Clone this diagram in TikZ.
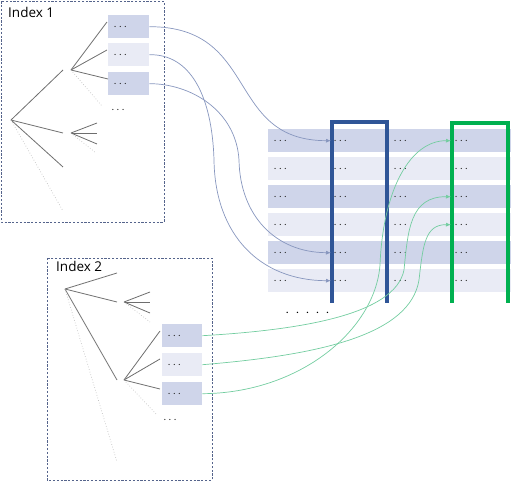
\documentclass[tikz,border=0pt]{standalone}
\usepackage{fontspec}
\setmainfont{Open Sans}
\newfontfamily\dotfont[LetterSpace=40]{Open Sans}
\newfontfamily\wdotfont[LetterSpace=90]{Open Sans}
\usetikzlibrary{arrows.meta}
\definecolor{rowdark}{RGB}{207,213,234}
\definecolor{rowlight}{RGB}{233,235,245}
\definecolor{framec}{RGB}{85,100,140}
\definecolor{treec}{RGB}{110,110,110}
\definecolor{treedot}{RGB}{195,195,195}
\definecolor{bluebr}{RGB}{47,85,151}
\definecolor{greenbr}{RGB}{0,176,80}
\definecolor{barrowc}{RGB}{135,150,190}
\definecolor{garrowc}{RGB}{115,205,160}
\definecolor{dotc}{RGB}{40,40,40}
\tikzset{
  frame/.style={draw=framec, line width=0.8pt, dash pattern=on 2.2pt off 1.6pt},
  idxlabel/.style={anchor=base west, inner sep=0pt, font=\fontsize{13.5}{15}\selectfont},
  tline/.style={draw=treec, line width=0.8pt},
  tdot/.style={draw=treedot, line width=0.7pt, dotted},
  keybox/.style={anchor=north west, minimum height=23pt, inner xsep=6pt, inner ysep=0pt, text width=29pt, align=left, text=dotc, font=\dotfont\bfseries\fontsize{7.5}{8}\selectfont},
  cellbox/.style={anchor=north west, minimum height=23pt, inner xsep=6pt, inner ysep=0pt, align=left, text=dotc, font=\dotfont\bfseries\fontsize{7.5}{8}\selectfont},
  more/.style={inner sep=0pt, text=dotc, font=\dotfont\bfseries\fontsize{7.5}{8}\selectfont},
  bracket/.style={line width=3.4pt, line join=miter},
  barrow/.style={draw=barrowc, line width=0.7pt, -{Latex[length=5pt,width=4pt]}},
  garrow/.style={draw=garrowc, line width=0.7pt, -{Latex[length=5pt,width=4pt]}},
}
\begin{document}
\begin{tikzpicture}[x=1pt,y=-1pt]
\useasboundingbox (0,0) rectangle (512,481);

% ---------- table ----------
\foreach \r in {1,...,6}{
  \pgfmathtruncatemacro\odd{mod(\r,2)}
  \ifnum\odd=1 \def\rc{rowdark}\else\def\rc{rowlight}\fi
  \foreach \c/\xx/\w in {1/268/60,2/328/60,3/388/61,4/449/62}{
    \pgfmathsetmacro\tw{\w-12}
    \node[cellbox, fill=\rc, text width=\tw pt] (c\r\c) at ({\xx},{129+28*(\r-1)}) {...};
  }
}
\node[inner sep=0pt, text=black, font=\wdotfont\bfseries\fontsize{8.5}{9}\selectfont, anchor=west] (etc) at (286,313) {.....};

% ---------- brackets ----------
\draw[bracket, draw=bluebr] (332,303) -- (332,122) -- (387,122) -- (387,303);
\draw[bracket, draw=greenbr] (452,303) -- (452,123) -- (508,123) -- (508,303);

% ---------- Index 1 ----------
\draw[frame] (1,1.5) rectangle (164,222);
\node[idxlabel] (l1) at (8,17.5) {Index 1};
\node[keybox, fill=rowdark] (a1) at (108,15) {...};
\node[keybox, fill=rowlight] (a2) at (108,43) {...};
\node[keybox, fill=rowdark] (a3) at (108,72) {...};
\node[more] (am) at (118,110) {...};

\coordinate (r1) at (11,120);
\coordinate (p11) at (63,70);
\coordinate (p12) at (63,133);
\coordinate (p13) at (63,167);
\coordinate (p14) at (63,211);
\coordinate (n11) at (71,70);
\coordinate (n12) at (71,133);
\draw[tline] (r1) -- (p11);
\draw[tline] (r1) -- (p12);
\draw[tline] (r1) -- (p13);
\draw[tdot] (r1) -- (p14);
\draw[tline] (n11) -- (107,22);
\draw[tline] (n11) -- (107,50);
\draw[tline] (n11) -- (108,79);
\draw[tdot] (n11) -- (102,106);
\draw[tline] (n12) -- (97,123);
\draw[tline] (n12) -- (97,133);
\draw[tline] (n12) -- (97,144);
\draw[tdot] (n12) -- (96,153);

% ---------- Index 2 ----------
\draw[frame] (47,258) rectangle (212,480);
\node[idxlabel] (l2) at (56,272) {Index 2};
\node[keybox, fill=rowdark, text width=28pt] (b1) at (162,324) {...};
\node[keybox, fill=rowlight, text width=28pt] (b2) at (162,353) {...};
\node[keybox, fill=rowdark, text width=28pt] (b3) at (162,382) {...};
\node[more] (bm) at (170,420) {...};

\coordinate (r2) at (65,289);
\coordinate (q21) at (117,273);
\coordinate (q22) at (117,302);
\coordinate (q23) at (117,380);
\coordinate (q24) at (117,462);
\coordinate (n21) at (124,302);
\coordinate (n22) at (124,380);
\draw[tline] (r2) -- (q21);
\draw[tline] (r2) -- (q22);
\draw[tline] (r2) -- (q23);
\draw[tdot] (r2) -- (q24);
\draw[tline] (n21) -- (150,292);
\draw[tline] (n21) -- (150,302);
\draw[tline] (n21) -- (150,313);
\draw[tdot] (n21) -- (150,322);
\draw[tline] (n22) -- (160,331);
\draw[tline] (n22) -- (160,359);
\draw[tline] (n22) -- (160,389);
\draw[tdot] (n22) -- (157,415);

% ---------- blue arrows ----------
\draw[barrow] (a1.east) .. controls (260,26.5) and (225,140.5) .. ([xshift=3pt]c12.west);
\draw[barrow] (a2.east) .. controls (190,54) and (212,95) .. (214,160) .. controls (215,235) and (260,280.5) .. ([xshift=3pt]c62.west);
\draw[barrow] (a3.east) .. controls (190,83.5) and (236,110) .. (239,160) .. controls (240,215) and (275,252.5) .. ([xshift=3pt]c52.west);

% ---------- green arrows ----------
\draw[garrow] (b1.east) .. controls (300,330) and (395,315) .. (404,270) .. controls (408,230) and (410,196.5) .. ([xshift=2pt]c34.west);
\draw[garrow] (b2.east) .. controls (320,355) and (410,335) .. (419,280) .. controls (423,245) and (425,224.5) .. ([xshift=2pt]c44.west);
\draw[garrow] (b3.east) .. controls (300,393) and (375,330) .. (380,265) .. controls (383,190) and (410,140.5) .. ([xshift=2pt]c14.west);
\end{tikzpicture}
\end{document}
